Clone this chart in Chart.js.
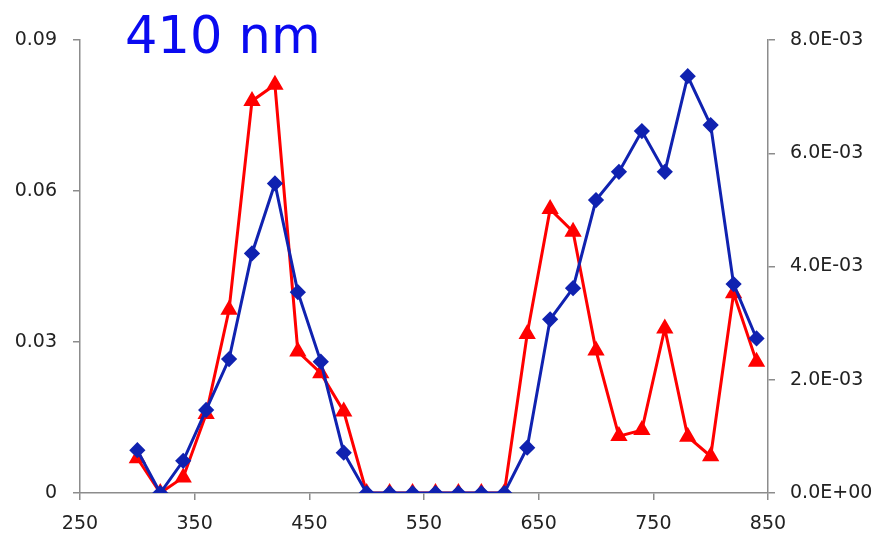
<!DOCTYPE html>
<html>
<head>
<meta charset="utf-8">
<script src="https://cdn.jsdelivr.net/npm/chart.js@4"></script>
<style>
  html, body { margin: 0; padding: 0; background: #fff; }
  #wrap { width: 875px; height: 535px; }
</style>
</head>
<body>
<div id="wrap"><canvas id="spectrumChart" width="875" height="535"></canvas></div>
<script>
// 파장 (nm)
const wavelengths = [300, 320, 340, 360, 380, 400, 420, 440, 460, 480, 500, 520, 540, 560,
    580, 600, 620, 640, 660, 680, 700, 720, 740, 760, 780, 800, 820, 840];

// 파란색 (마름모) 시리즈
const blueValues = [0.0085, 0, 0.0064, 0.0165, 0.0266, 0.0476, 0.0615, 0.0399, 0.0261, 0.0080,
    0, 0, 0, 0, 0, 0, 0, 0.0090, 0.0345, 0.0407, 0.0582, 0.0638, 0.0719, 0.0638, 0.0828, 0.0731,
    0.0415, 0.0307];

// 빨간색 (삼각형) 시리즈
const redValues = [0.0069, 0, 0.0031, 0.0157, 0.0364, 0.0779, 0.0811, 0.0281, 0.0238, 0.0162,
    0, 0, 0, 0, 0, 0, 0, 0.0316, 0.0564, 0.0519, 0.0283, 0.0113, 0.0125, 0.0327, 0.0112, 0.0073,
    0.0397, 0.0261];

const leftTicks = [0, 0.03, 0.06, 0.09];
const rightTicks = [0, 0.002, 0.004, 0.006, 0.008];
const titleText = '410 nm';

const toPoints = vals => vals.map((v, i) => ({ x: wavelengths[i], y: v }));

// 8.0E-03 형식
function sci(v) {
    if (v === 0) return '0.0E+00';
    const [m, e] = v.toExponential(1).toUpperCase().split('E');
    const n = parseInt(e, 10);
    return m + 'E' + (n < 0 ? '-' : '+') + String(Math.abs(n)).padStart(2, '0');
}

const axisGray = '#8c8c8c';
const tickFont = { family: 'DejaVu Sans', size: 19 };

// 제목 그리기
const titlePlugin = {
    id: 'titleText',
    afterDraw(chart) {
        const c = chart.ctx;
        c.save();
        c.font = '51px "DejaVu Sans"';
        c.fillStyle = '#0a0af0';
        c.textBaseline = 'alphabetic';
        c.fillText(titleText, 125, 53);
        c.restore();
    }
};

const ctx = document.getElementById('spectrumChart').getContext('2d');
const spectrumChart = new Chart(ctx, {
    type: 'line',
    data: {
        datasets: [{
            data: toPoints(blueValues),
            borderColor: '#1022b0',
            backgroundColor: '#1022b0',
            borderWidth: 3,
            pointStyle: 'rectRot',
            pointRadius: 6,
            yAxisID: 'y'
        }, {
            data: toPoints(redValues),
            borderColor: '#ff0000',
            backgroundColor: '#ff0000',
            borderWidth: 3,
            pointStyle: 'triangle',
            pointRadius: 7,
            yAxisID: 'y'
        }]
    },
    options: {
        responsive: false,
        animation: false,
        layout: { padding: { top: 40, left: 0, right: 0, bottom: 0 } },
        plugins: {
            legend: { display: false },
            tooltip: { enabled: false }
        },
        scales: {
            x: {
                type: 'linear',
                min: 250,
                max: 850,
                afterFit: s => { s.height = 42; },
                afterBuildTicks: s => { s.ticks = [250, 350, 450, 550, 650, 750, 850].map(v => ({ value: v })); },
                border: { color: axisGray, width: 1.5 },
                grid: { drawOnChartArea: false, color: axisGray, tickLength: 7, lineWidth: 1.5 },
                ticks: { color: '#222', font: tickFont, padding: 13, maxRotation: 0 }
            },
            y: {
                position: 'left',
                min: 0,
                max: 0.09,
                afterFit: s => { s.width = 80; },
                afterBuildTicks: s => { s.ticks = leftTicks.map(v => ({ value: v })); },
                border: { color: axisGray, width: 1.5 },
                grid: { drawOnChartArea: false, color: axisGray, tickLength: 7, lineWidth: 1.5 },
                ticks: { color: '#222', font: tickFont, padding: 16, callback: v => String(v) }
            },
            y2: {
                position: 'right',
                min: 0,
                max: 0.008,
                afterFit: s => { s.width = 107; },
                afterBuildTicks: s => { s.ticks = rightTicks.map(v => ({ value: v })); },
                border: { color: axisGray, width: 1.5 },
                grid: { drawOnChartArea: false, color: axisGray, tickLength: 7, lineWidth: 1.5 },
                ticks: { color: '#222', font: tickFont, padding: 15, callback: v => sci(v) }
            }
        }
    },
    plugins: [titlePlugin]
});
</script>
</body>
</html>
